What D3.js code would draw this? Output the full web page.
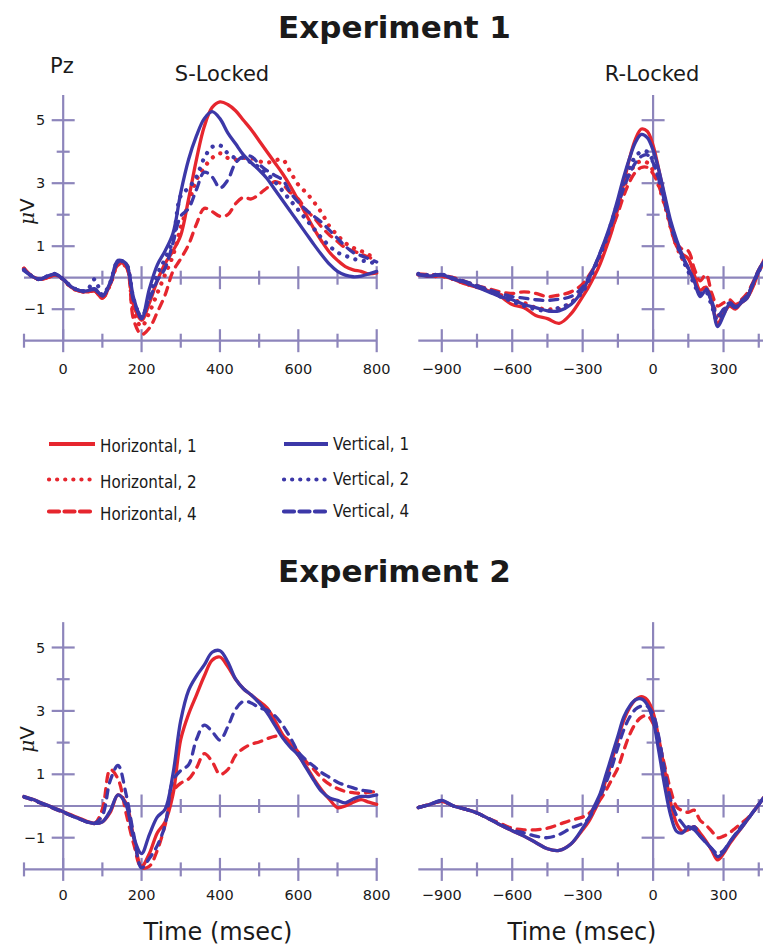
<!DOCTYPE html>
<html>
<head>
<meta charset="utf-8">
<script src="https://cdn.jsdelivr.net/npm/d3@7"></script>
<style>
  body { margin: 0; background: #fff; }
  text { font-family: "DejaVu Sans", Verdana, sans-serif; fill: #1a1a1a; }
</style>
</head>
<body>
<div id="chart"></div>
<script>
// time bases (ms)
var sTimes = [-100,-80,-60,-40,-20,0,20,40,60,80,100,120,140,160,180,200,220,240,260,280,300,320,340,360,380,400,420,440,460,480,500,520,540,560,580,600,620,640,660,680,700,720,740,760,780,800];
var rTimes = [-1000,-950,-900,-850,-800,-750,-700,-650,-600,-550,-500,-450,-400,-350,-300,-275,-250,-225,-200,-175,-150,-125,-100,-75,-50,-25,0,25,50,75,100,125,150,175,200,225,250,275,300,325,350,375,400,425,450,475,500];

// Experiment 1, stimulus locked (uV)
var exp1S_H1 = [0.3,0.05,-0.05,0.0,0.1,-0.05,-0.3,-0.42,-0.45,-0.42,-0.65,-0.2,0.45,0.4,-0.9,-1.35,-0.8,-0.1,0.45,0.85,1.35,2.5,3.75,4.8,5.4,5.58,5.5,5.3,5.0,4.7,4.35,4.0,3.65,3.3,2.9,2.45,2.0,1.55,1.15,0.8,0.55,0.35,0.25,0.2,0.12,0.15];
var exp1S_H2 = [0.28,0.05,-0.05,0.02,0.1,-0.05,-0.3,-0.42,-0.45,-0.4,-0.62,-0.22,0.42,0.42,-1.1,-1.55,-1.1,-0.5,0.1,0.7,1.6,2.35,3.1,3.5,3.8,3.95,3.8,3.75,3.8,3.8,3.7,3.65,3.72,3.75,3.35,2.95,2.7,2.4,2.05,1.62,1.35,1.1,0.95,0.85,0.72,0.67];
var exp1S_H4 = [0.3,0.05,-0.05,0.0,0.08,-0.05,-0.3,-0.42,-0.45,-0.42,-0.65,-0.22,0.4,0.35,-1.35,-1.8,-1.6,-1.1,-0.55,0.2,0.6,1.05,1.7,2.2,2.1,1.95,2.0,2.35,2.55,2.5,2.65,2.85,3.05,2.95,2.7,2.5,2.15,1.9,1.6,1.35,1.15,0.95,0.85,0.75,0.65,0.55];
var exp1S_V1 = [0.25,0.05,-0.05,0.05,0.12,-0.05,-0.28,-0.4,-0.42,-0.35,-0.58,-0.15,0.55,0.45,-0.65,-1.3,-0.35,0.4,0.85,1.4,2.7,3.75,4.5,5.05,5.27,5.05,4.6,4.25,3.9,3.65,3.42,3.15,2.8,2.45,2.1,1.75,1.4,1.05,0.72,0.42,0.2,0.08,0.03,0.05,0.12,0.2];
var exp1S_V2 = [0.25,0.05,-0.05,0.05,0.12,-0.05,-0.28,-0.4,-0.42,-0.05,-0.55,-0.15,0.52,0.45,-0.7,-1.25,-0.6,0.1,0.6,1.2,2.6,2.85,3.2,3.8,4.15,4.2,3.95,3.8,3.8,3.65,3.5,3.3,3.05,2.75,2.45,2.15,1.85,1.55,1.25,1.0,0.8,0.7,0.6,0.55,0.5,0.45];
var exp1S_V4 = [0.22,0.05,-0.05,0.05,0.1,-0.05,-0.28,-0.4,-0.42,-0.38,-0.58,-0.18,0.5,0.45,-0.75,-1.2,-0.7,-0.1,0.3,1.1,1.95,2.2,2.8,3.35,3.2,2.85,3.1,3.65,3.85,3.85,3.6,3.4,3.25,3.1,2.7,2.4,2.15,1.95,1.75,1.5,1.25,1.0,0.8,0.7,0.6,0.5];

// Experiment 1, response locked
var exp1R_H1 = [0.1,0.05,0.05,-0.05,-0.2,-0.3,-0.42,-0.6,-0.85,-0.95,-1.2,-1.3,-1.45,-1.15,-0.6,-0.3,0.05,0.45,0.95,1.5,2.2,3.0,3.8,4.4,4.72,4.65,4.2,3.4,2.5,1.6,1.0,0.75,0.6,0.1,-0.4,-0.3,-0.8,-1.45,-1.15,-0.9,-1.0,-0.8,-0.65,-0.3,0.2,0.6,0.9];
var exp1R_H2 = [0.1,0.05,0.05,-0.05,-0.18,-0.3,-0.4,-0.55,-0.7,-0.8,-0.95,-1.0,-1.0,-0.8,-0.4,-0.1,0.3,0.7,1.15,1.65,2.25,2.85,3.3,3.6,3.7,3.65,3.4,2.9,2.3,1.6,1.0,0.6,0.3,-0.1,-0.45,-0.3,-0.7,-1.2,-1.05,-0.85,-0.9,-0.75,-0.6,-0.25,0.2,0.55,0.85];
var exp1R_H4 = [0.12,0.1,0.08,0.0,-0.12,-0.25,-0.35,-0.45,-0.5,-0.45,-0.5,-0.6,-0.55,-0.45,-0.2,0.05,0.35,0.7,1.1,1.55,2.05,2.6,3.05,3.35,3.5,3.5,3.3,2.9,2.3,1.7,1.1,0.9,0.85,0.3,-0.1,0.1,-0.5,-0.9,-0.8,-0.7,-0.85,-0.7,-0.5,-0.15,0.25,0.55,0.85];
var exp1R_V1 = [0.1,0.05,0.1,-0.05,-0.15,-0.3,-0.45,-0.6,-0.7,-0.85,-0.95,-1.05,-1.05,-0.85,-0.4,-0.05,0.35,0.8,1.3,1.85,2.5,3.2,3.8,4.3,4.55,4.45,4.05,3.4,2.6,1.8,1.2,0.7,0.3,-0.1,-0.6,-0.4,-0.8,-1.55,-1.2,-0.85,-0.95,-0.8,-0.65,-0.2,0.25,0.55,0.85];
var exp1R_V2 = [0.12,0.08,0.1,-0.02,-0.15,-0.28,-0.42,-0.6,-0.75,-0.9,-1.0,-1.05,-0.95,-0.8,-0.45,-0.1,0.3,0.75,1.2,1.8,2.4,3.0,3.5,3.85,4.0,4.0,3.7,3.1,2.4,1.7,1.1,0.6,0.2,-0.2,-0.55,-0.45,-0.9,-1.35,-1.1,-0.8,-0.95,-0.75,-0.6,-0.2,0.2,0.5,0.8];
var exp1R_V4 = [0.1,0.08,0.08,-0.02,-0.12,-0.25,-0.38,-0.5,-0.6,-0.65,-0.7,-0.72,-0.68,-0.6,-0.3,0.0,0.35,0.8,1.25,1.75,2.3,2.85,3.3,3.65,3.85,3.9,3.65,3.1,2.4,1.7,1.1,0.65,0.3,-0.1,-0.5,-0.35,-0.75,-1.2,-1.0,-0.8,-0.9,-0.75,-0.55,-0.2,0.2,0.5,0.8];

// Experiment 2, stimulus locked
var exp2S_H1 = [0.3,0.22,0.12,0.02,-0.08,-0.18,-0.28,-0.38,-0.48,-0.55,-0.5,-0.2,0.35,0.1,-1.0,-1.9,-1.5,-0.85,-0.5,0.35,2.1,2.9,3.5,4.1,4.6,4.7,4.4,4.0,3.7,3.5,3.3,3.1,2.7,2.25,1.95,1.6,1.25,0.85,0.5,0.2,-0.05,0.0,0.12,0.2,0.12,0.05];
var exp2S_H4 = [0.28,0.2,0.1,0.0,-0.1,-0.2,-0.3,-0.4,-0.5,-0.55,-0.1,1.15,0.85,-0.2,-1.2,-1.95,-1.9,-1.4,-0.6,0.45,0.72,0.85,1.2,1.65,1.4,1.0,1.15,1.6,1.82,1.95,2.02,2.12,2.2,2.2,2.0,1.7,1.4,1.15,0.88,0.68,0.55,0.46,0.42,0.4,0.43,0.45];
var exp2S_V1 = [0.3,0.22,0.12,0.02,-0.08,-0.18,-0.3,-0.4,-0.5,-0.55,-0.5,-0.15,0.35,0.05,-1.0,-1.5,-0.9,-0.35,-0.1,1.0,2.7,3.65,4.1,4.45,4.85,4.9,4.55,4.0,3.7,3.5,3.25,2.95,2.55,2.15,1.85,1.6,1.2,0.8,0.45,0.25,0.18,0.1,0.22,0.3,0.3,0.35];
var exp2S_V4 = [0.28,0.2,0.1,0.0,-0.1,-0.2,-0.3,-0.4,-0.5,-0.55,-0.3,0.8,1.28,0.4,-0.9,-1.95,-1.65,-1.25,-0.6,0.8,1.12,1.3,2.1,2.55,2.35,2.08,2.5,3.05,3.3,3.25,3.1,3.03,2.85,2.55,2.15,1.7,1.45,1.25,1.05,0.9,0.75,0.65,0.57,0.5,0.47,0.45];

// Experiment 2, response locked
var exp2R_H1 = [-0.05,0.05,0.15,0.0,-0.1,-0.22,-0.4,-0.6,-0.78,-0.95,-1.15,-1.35,-1.4,-1.2,-0.75,-0.5,-0.15,0.25,0.85,1.45,2.1,2.7,3.1,3.35,3.45,3.35,2.95,2.1,1.1,0.1,-0.55,-0.8,-0.75,-0.65,-0.85,-1.1,-1.4,-1.7,-1.5,-1.2,-0.95,-0.7,-0.45,-0.2,0.05,0.3,0.55];
var exp2R_H4 = [-0.05,0.05,0.15,0.0,-0.1,-0.22,-0.4,-0.55,-0.7,-0.75,-0.75,-0.7,-0.58,-0.45,-0.35,-0.25,-0.05,0.2,0.5,0.85,1.2,1.75,2.25,2.6,2.8,2.85,2.6,2.0,1.25,0.5,-0.02,-0.15,-0.2,-0.13,-0.45,-0.6,-0.8,-1.0,-0.95,-0.85,-0.7,-0.55,-0.4,-0.2,0.05,0.3,0.55];
var exp2R_V1 = [-0.05,0.05,0.18,0.0,-0.1,-0.22,-0.4,-0.6,-0.78,-0.95,-1.15,-1.35,-1.4,-1.2,-0.7,-0.4,0.0,0.4,1.0,1.6,2.2,2.8,3.15,3.35,3.38,3.2,2.7,1.7,0.6,-0.3,-0.8,-0.85,-0.65,-0.75,-0.95,-1.15,-1.35,-1.6,-1.45,-1.15,-0.9,-0.7,-0.45,-0.2,0.05,0.3,0.55];
var exp2R_V4 = [-0.05,0.05,0.15,0.0,-0.1,-0.22,-0.4,-0.58,-0.75,-0.85,-0.95,-1.0,-0.9,-0.7,-0.55,-0.4,-0.1,0.3,0.75,1.25,1.85,2.4,2.8,3.05,3.15,3.15,2.9,2.15,1.1,0.2,-0.3,-0.55,-0.75,-0.65,-0.95,-1.15,-1.35,-1.5,-1.4,-1.15,-0.9,-0.65,-0.45,-0.2,0.05,0.3,0.5];

var sTickLabels = [0, 200, 400, 600, 800];
var rTickLabels = [-900, -600, -300, 0, 300];
var yTickLabels = [5, 3, 1, -1];
var legendLeft = ["Horizontal, 1", "Horizontal, 2", "Horizontal, 4"];
var legendRight = ["Vertical, 1", "Vertical, 2", "Vertical, 4"];

var RED = "#e6262e", BLUE = "#3c38a8", AXIS = "#8d85bb";
var dashes = { solid: null, dotted: "0.1,8.5", dashed: "8,7" };

var svg = d3.select("#chart").append("svg")
    .attr("width", 763).attr("height", 946)
    .style("display", "block").style("background", "#fff");

var xS = d3.scaleLinear().domain([-100, 800]).range([24, 376.7]);
var xR = d3.scaleLinear().domain([-1000, 500]).range([418.3, 770.5]);
var y1 = d3.scaleLinear().domain([0, 5]).range([277.7, 120.2]);
var y2 = d3.scaleLinear().domain([0, 5]).range([806, 647.5]);

function fmt(v) { return v < 0 ? "\u2212" + Math.abs(v) : "" + v; }

function frame(x, y, ticks, labels, withY, labelY) {
    var g = svg.append("g").attr("stroke", AXIS).attr("stroke-width", 2.2).attr("fill", "none");
    var x0 = x.range()[0], x1 = x.range()[1];
    var yb = y(-2), yz = y(0), xc = x(0);
    g.append("line").attr("x1", x0).attr("x2", x1).attr("y1", yz).attr("y2", yz);
    g.append("line").attr("x1", x0).attr("x2", x1).attr("y1", yb).attr("y2", yb);
    g.append("line").attr("x1", xc).attr("x2", xc).attr("y1", yb).attr("y2", y(5.8));
    ticks.forEach(function(t) {
        var len = labels.indexOf(t) >= 0 ? 11.5 : 7;
        g.append("line").attr("x1", x(t)).attr("x2", x(t)).attr("y1", yb - len).attr("y2", yb + len);
        if (t !== 0 && t > x.domain()[0])
            g.append("line").attr("x1", x(t)).attr("x2", x(t)).attr("y1", yz - len).attr("y2", yz + len);
    });
    [5, 4, 3, 2, 1, -1].forEach(function(v) {
        var len = yTickLabels.indexOf(v) >= 0 ? 11.5 : 6.5;
        g.append("line").attr("x1", xc - len).attr("x2", xc + len).attr("y1", y(v)).attr("y2", y(v));
    });
    svg.append("g").selectAll("text").data(labels).enter().append("text")
        .attr("x", function(d) { return x(d); }).attr("y", labelY)
        .attr("text-anchor", "middle").attr("font-size", 14.5)
        .text(fmt);
    if (withY) {
        svg.append("g").selectAll("text").data(yTickLabels).enter().append("text")
            .attr("x", xc - 18).attr("y", function(d) { return y(d) + 5; })
            .attr("text-anchor", "end").attr("font-size", 14.5)
            .text(fmt);
        var t = svg.append("text")
            .attr("transform", "translate(" + (xc - 29) + "," + y(2.1) + ") rotate(-90)")
            .attr("text-anchor", "middle").attr("font-size", 20);
        t.append("tspan").attr("font-family", "DejaVu Serif, serif").attr("font-style", "italic").text("\u03bc");
        t.append("tspan").text("V");
    }
}

function traces(x, y, times, list) {
    var line = d3.line()
        .x(function(d, i) { return x(times[i]); })
        .y(function(d) { return y(d); })
        .curve(d3.curveCatmullRom.alpha(0.5));
    svg.append("g").selectAll("path").data(list).enter().append("path")
        .attr("d", function(d) { return line(d.vals); })
        .attr("fill", "none")
        .attr("stroke", function(d) { return d.color; })
        .attr("stroke-width", function(d) { return d.dash === "dotted" ? 4.2 : 3.3; })
        .attr("stroke-linecap", "round")
        .attr("stroke-linejoin", "round")
        .attr("stroke-dasharray", function(d) { return dashes[d.dash]; });
}

var sTicks = d3.range(-100, 801, 100);
var rTicks = d3.range(-900, 601, 150);

// titles
svg.append("text").attr("x", 394.5).attr("y", 38).attr("text-anchor", "middle")
    .attr("font-size", 31).attr("font-weight", "bold").text("Experiment 1");
svg.append("text").attr("x", 394.5).attr("y", 582).attr("text-anchor", "middle")
    .attr("font-size", 31).attr("font-weight", "bold").text("Experiment 2");
svg.append("text").attr("x", 50).attr("y", 73).attr("font-size", 21).text("Pz");
svg.append("text").attr("x", 222).attr("y", 81).attr("text-anchor", "middle").attr("font-size", 21).text("S-Locked");
svg.append("text").attr("x", 652).attr("y", 81).attr("text-anchor", "middle").attr("font-size", 21).text("R-Locked");

frame(xS, y1, sTicks, sTickLabels, true, 374);
frame(xR, y1, rTicks, rTickLabels, false, 374);
frame(xS, y2, sTicks, sTickLabels, true, 900);
frame(xR, y2, rTicks, rTickLabels, false, 900);

traces(xS, y1, sTimes, [
    {vals: exp1S_H4, color: RED, dash: "dashed"},
    {vals: exp1S_H2, color: RED, dash: "dotted"},
    {vals: exp1S_H1, color: RED, dash: "solid"},
    {vals: exp1S_V4, color: BLUE, dash: "dashed"},
    {vals: exp1S_V2, color: BLUE, dash: "dotted"},
    {vals: exp1S_V1, color: BLUE, dash: "solid"}
]);
traces(xR, y1, rTimes, [
    {vals: exp1R_H4, color: RED, dash: "dashed"},
    {vals: exp1R_H2, color: RED, dash: "dotted"},
    {vals: exp1R_H1, color: RED, dash: "solid"},
    {vals: exp1R_V4, color: BLUE, dash: "dashed"},
    {vals: exp1R_V2, color: BLUE, dash: "dotted"},
    {vals: exp1R_V1, color: BLUE, dash: "solid"}
]);
traces(xS, y2, sTimes, [
    {vals: exp2S_H4, color: RED, dash: "dashed"},
    {vals: exp2S_H1, color: RED, dash: "solid"},
    {vals: exp2S_V4, color: BLUE, dash: "dashed"},
    {vals: exp2S_V1, color: BLUE, dash: "solid"}
]);
traces(xR, y2, rTimes, [
    {vals: exp2R_H4, color: RED, dash: "dashed"},
    {vals: exp2R_H1, color: RED, dash: "solid"},
    {vals: exp2R_V4, color: BLUE, dash: "dashed"},
    {vals: exp2R_V1, color: BLUE, dash: "solid"}
]);

// x axis titles
svg.append("text").attr("x", 218).attr("y", 940).attr("text-anchor", "middle").attr("font-size", 24).text("Time (msec)");
svg.append("text").attr("x", 582).attr("y", 940).attr("text-anchor", "middle").attr("font-size", 24).text("Time (msec)");

// legend (narrow face, approximated by squeezing Liberation Sans)
var legDash = ["solid", "dotted", "dashed"];
var legY = [444, 479.5, 511.5];
function legend(items, color, lx0, lx1, tx, baseShift) {
    var g = svg.append("g");
    items.forEach(function(label, i) {
        g.append("line").attr("x1", lx0).attr("x2", lx1).attr("y1", legY[i]).attr("y2", legY[i])
            .attr("stroke", color).attr("stroke-width", 4.2)
            .attr("stroke-linecap", legDash[i] === "solid" ? "butt" : "round")
            .attr("stroke-dasharray", legDash[i] === "dotted" ? "0.1,8" : (legDash[i] === "dashed" ? "10,5.5" : null));
        g.append("text")
            .attr("transform", "translate(" + tx + "," + (legY[i] + baseShift) + ") scale(0.82,1)")
            .attr("font-family", "'Liberation Sans', Arial, sans-serif")
            .attr("font-size", 18.5).text(label);
    });
}
legend(legendLeft, RED, 49, 95, 100, 8);
legend(legendRight, BLUE, 284, 328, 333, 5.5);
</script>
</body>
</html>
